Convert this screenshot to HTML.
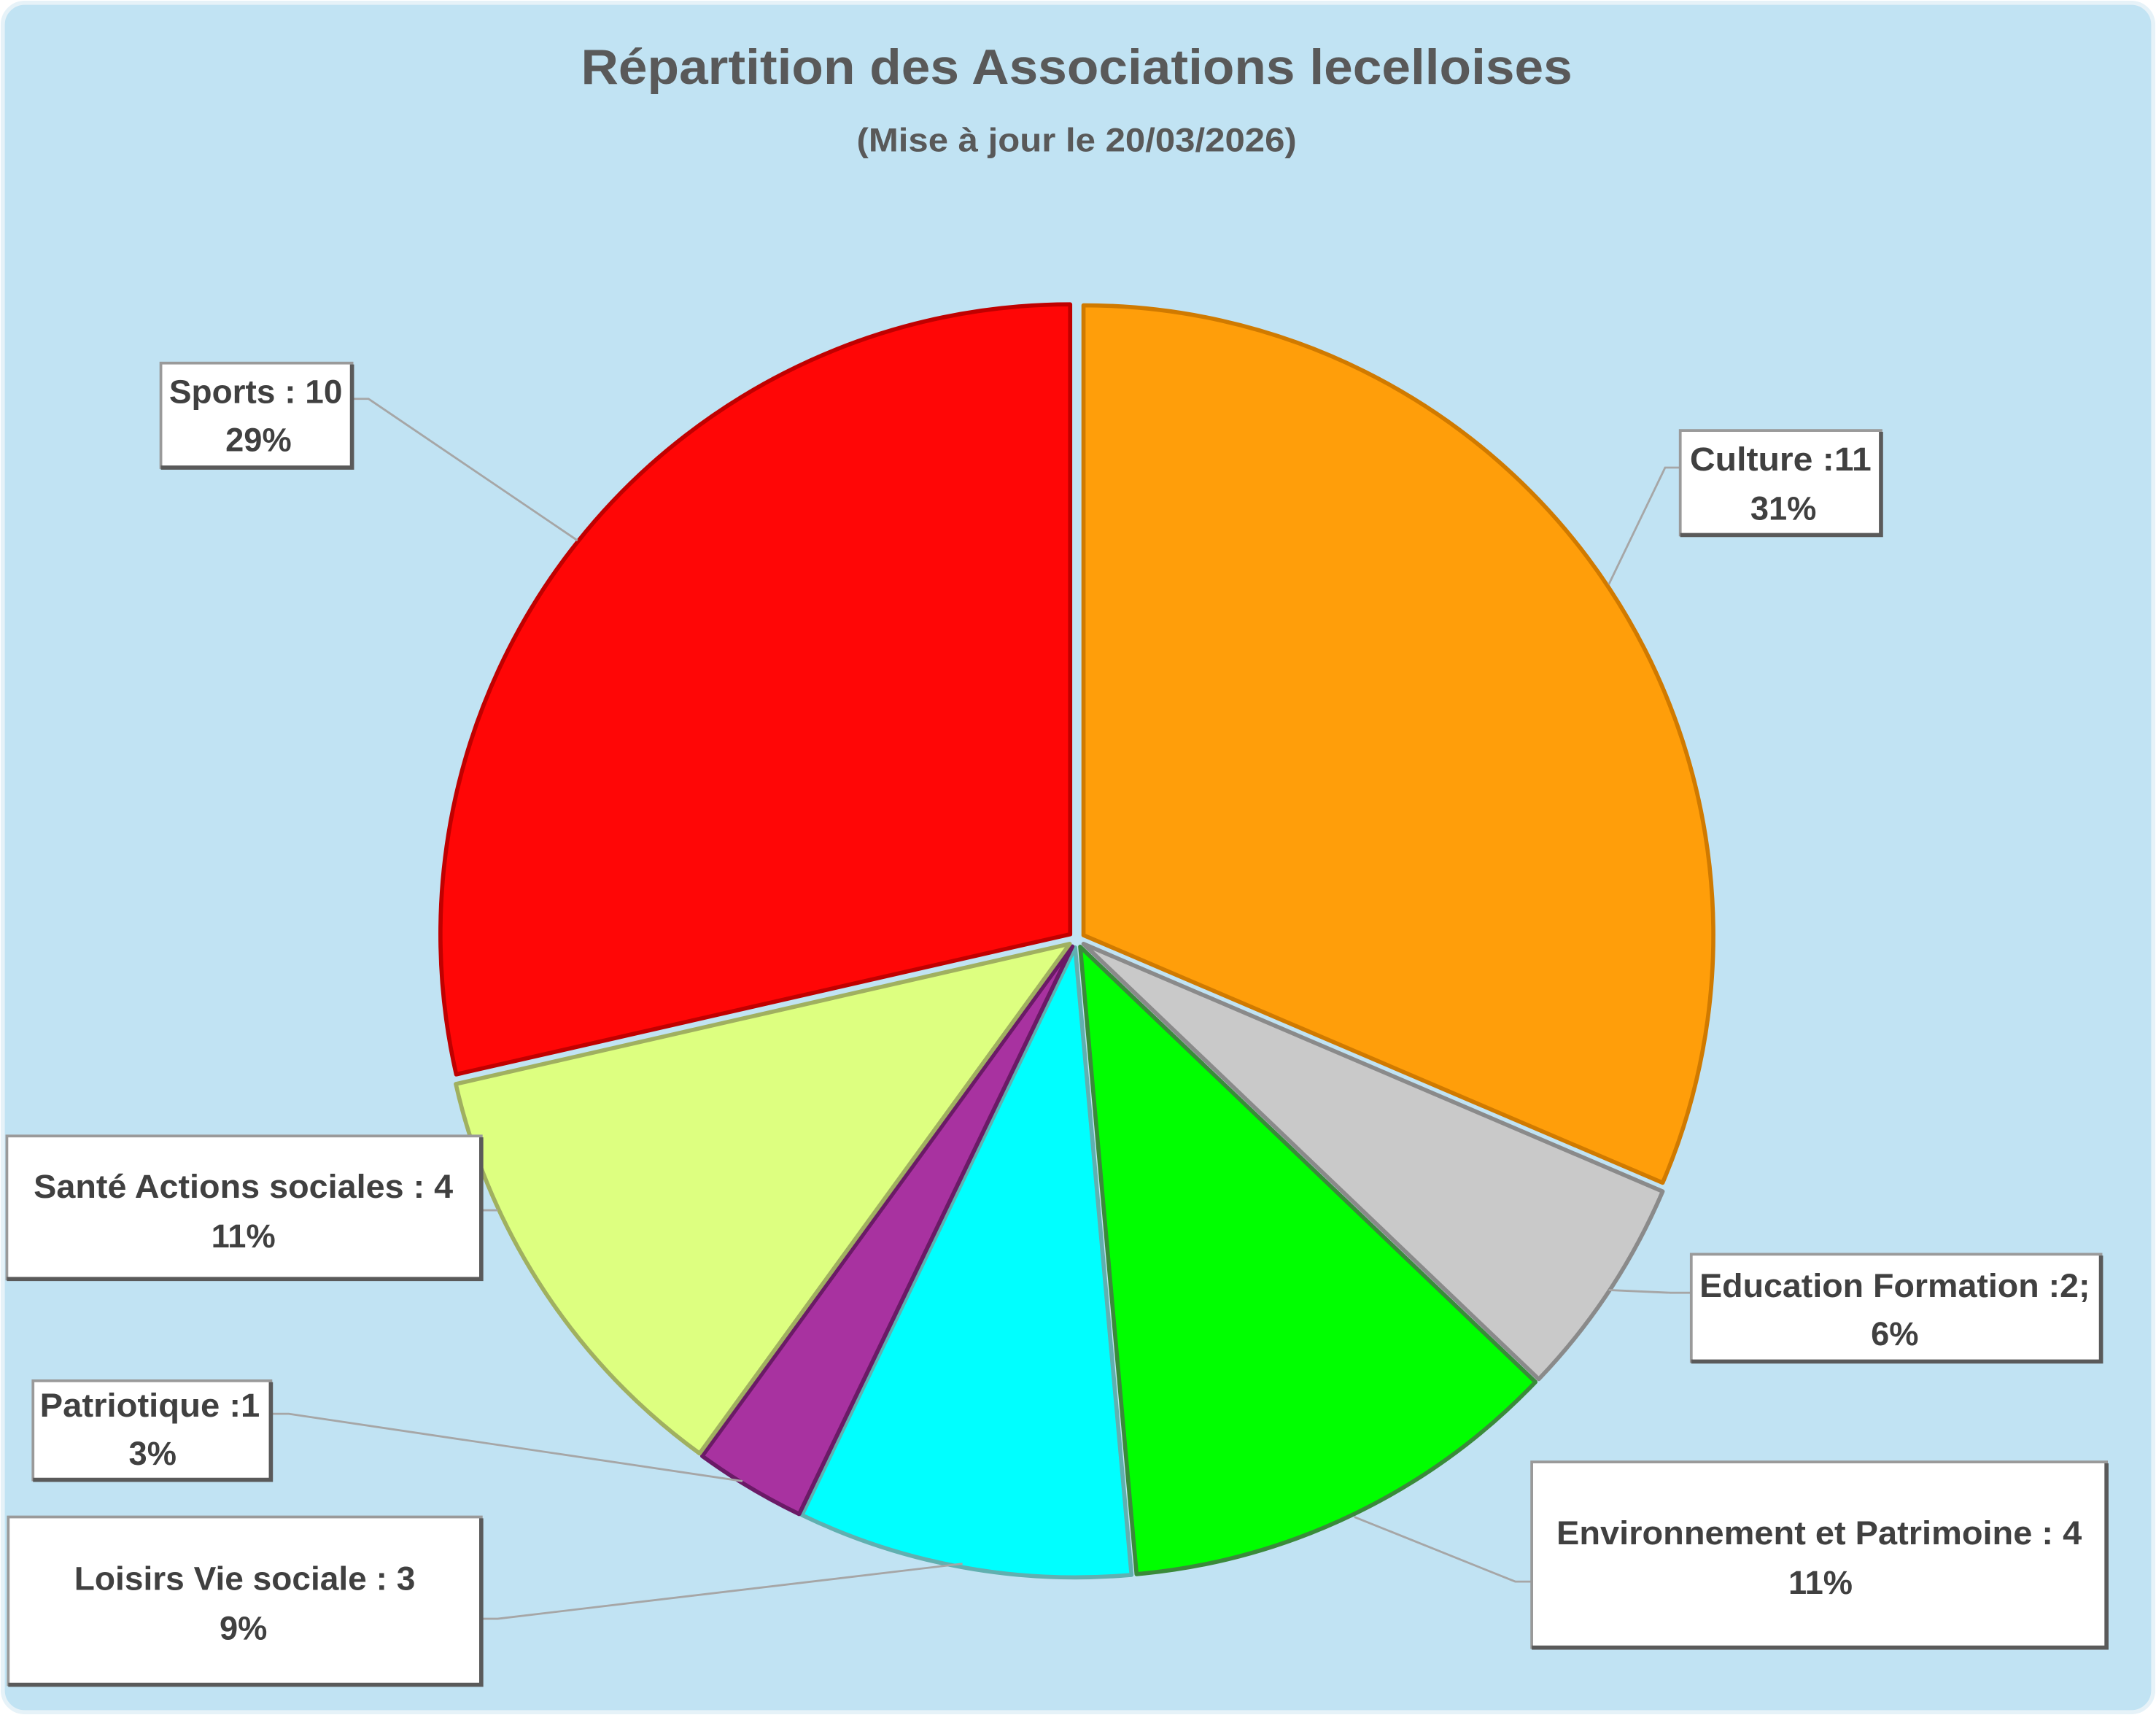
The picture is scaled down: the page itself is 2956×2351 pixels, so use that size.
<!DOCTYPE html>
<html><head><meta charset="utf-8"><style>
html,body{margin:0;padding:0;background:#fff;}
svg{display:block;}
</style></head><body>
<svg width="2956" height="2351" viewBox="0 0 1568 1247" preserveAspectRatio="none" xmlns="http://www.w3.org/2000/svg" font-family="'Liberation Sans Narrow','Liberation Sans',sans-serif" font-weight="bold">
<defs>
<linearGradient id="bv" x1="0" y1="0" x2="0" y2="1"><stop offset="0" stop-color="#fff"/><stop offset="1" stop-color="#fff"/></linearGradient>
</defs>
<rect x="2" y="2" width="1564" height="1243" rx="16" fill="#C1E3F3" stroke="#e6f2f8" stroke-width="3"/>
<text x="783" y="61" text-anchor="middle" font-size="36" fill="#595959" textLength="721" lengthAdjust="spacingAndGlyphs">Répartition des Associations lecelloises</text>
<text x="783" y="110" text-anchor="middle" font-size="24" fill="#595959" textLength="320" lengthAdjust="spacingAndGlyphs">(Mise à jour le 20/03/2026)</text>

<g stroke-width="3" stroke-linejoin="round">
<path d="M788,680 L788,222 A458,458 0 0 1 1209.2,860 Z" fill="#FF9E0A" stroke="#d07a00"/>
<path d="M788,686.3 L1209.2,866.3 A458,458 0 0 1 1119.1,1002.8 Z" fill="#C9C9C9" stroke="#8a8a8a"/>
<path d="M785.6,688.4 L1116.7,1004.9 A458,458 0 0 1 826.6,1144.6 Z" fill="#00FF00" stroke="#3a8a3a"/>
<path d="M781.9,688.9 L822.9,1145.1 A458,458 0 0 1 583.2,1101.6 Z" fill="#00FFFF" stroke="#60b0b0"/>
<path d="M779.9,688.2 L581.2,1100.9 A458,458 0 0 1 510.7,1058.7 Z" fill="#A832A0" stroke="#6a1a66"/>
<path d="M778,686.3 L508.8,1056.8 A458,458 0 0 1 331.5,788.2 Z" fill="#DDFF80" stroke="#a0b060"/>
<path d="M778.3,679.3 L331.8,781.2 A458,458 0 0 1 778.3,221.3 Z" fill="#FF0606" stroke="#c00000"/>
</g>

<g stroke="#A6A6A6" stroke-width="1.5" fill="none">
<polyline points="256,290 268,290 420,393"/>
<polyline points="1222,340 1211,340 1170,425"/>
<polyline points="350,880 362,880"/>
<polyline points="1230,940 1215,940 1170,938"/>
<polyline points="197,1028 210,1028 540,1077"/>
<polyline points="350,1177 362,1177 700,1137"/>
<polyline points="1114,1150 1102,1150 985,1103"/>
</g>

<g fill="#fff" stroke="#9a9a9a" stroke-width="2">
<rect x="117" y="264" width="139" height="76"/>
<rect x="1222" y="313" width="146" height="76"/>
<rect x="5" y="826" width="345" height="104"/>
<rect x="1230" y="912" width="298" height="78"/>
<rect x="24" y="1004" width="173" height="72"/>
<rect x="6" y="1103" width="344" height="122"/>
<rect x="1114" y="1063" width="418" height="135"/>
</g>
<g fill="none" stroke="#5a5a5a" stroke-width="3">
<polyline points="256,265 256,340 117,340"/>
<polyline points="1368,314 1368,389 1222,389"/>
<polyline points="350,827 350,930 5,930"/>
<polyline points="1528,913 1528,990 1230,990"/>
<polyline points="197,1005 197,1076 24,1076"/>
<polyline points="350,1104 350,1225 6,1225"/>
<polyline points="1532,1064 1532,1198 1114,1198"/>
</g>

<g fill="#404040" font-size="24" text-anchor="middle">
<text x="186" y="293" textLength="126" lengthAdjust="spacingAndGlyphs">Sports : 10</text>
<text x="188" y="328">29%</text>
<text x="1295" y="342" textLength="132" lengthAdjust="spacingAndGlyphs">Culture :11</text>
<text x="1297" y="378">31%</text>
<text x="177" y="871" textLength="305" lengthAdjust="spacingAndGlyphs">Santé Actions sociales : 4</text>
<text x="177" y="907">11%</text>
<text x="1378" y="943" textLength="284" lengthAdjust="spacingAndGlyphs">Education Formation :2;</text>
<text x="1378" y="978">6%</text>
<text x="109" y="1030" textLength="160" lengthAdjust="spacingAndGlyphs">Patriotique :1</text>
<text x="111" y="1065">3%</text>
<text x="178" y="1156" textLength="248" lengthAdjust="spacingAndGlyphs">Loisirs Vie sociale : 3</text>
<text x="177" y="1192">9%</text>
<text x="1323" y="1123" textLength="382" lengthAdjust="spacingAndGlyphs">Environnement et Patrimoine : 4</text>
<text x="1324" y="1159">11%</text>
</g>
</svg>
</body></html>
